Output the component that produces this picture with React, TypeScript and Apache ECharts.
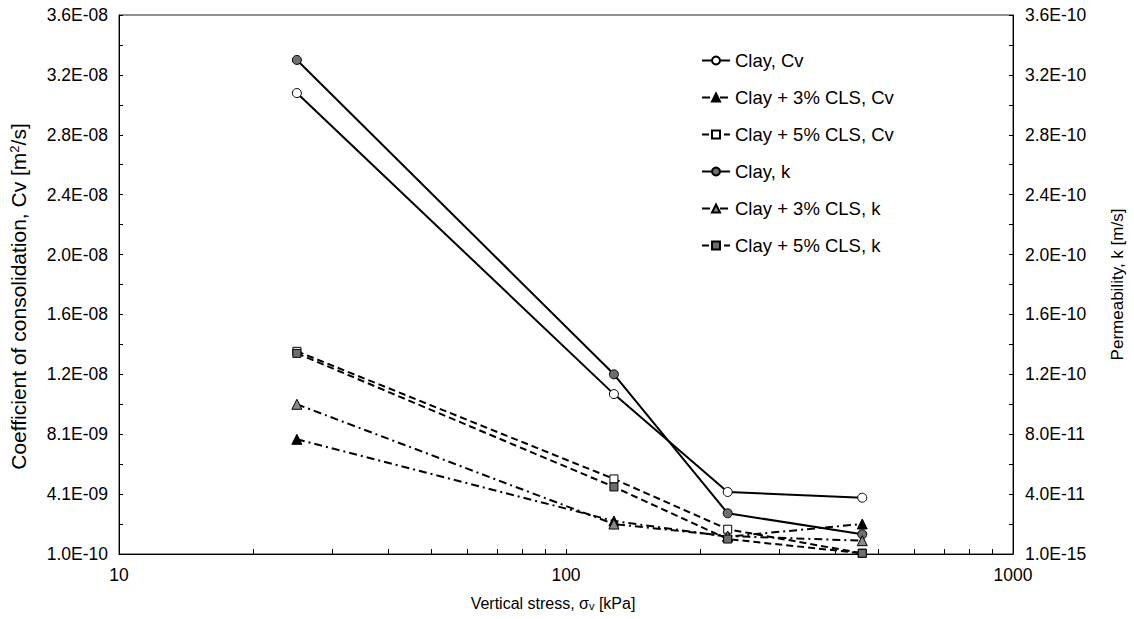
import React, { useEffect, useRef } from "react";
import * as echarts from "echarts";

// ---- data ----
const stress = [25, 128, 230, 460];
const clayCv = [3.08e-8, 1.075e-8, 4.23e-9, 3.85e-9];
const cls3Cv = [7.74e-9, 2.3e-9, 1.25e-9, 2.1e-9];
const cls5Cv = [1.36e-8, 5.1e-9, 1.75e-9, 1.5e-10];
const clayK = [3.3e-10, 1.2e-10, 2.72e-11, 1.32e-11];
const cls3K = [1.0e-10, 2.0e-11, 1.2e-11, 8.9e-12];
const cls5K = [1.34e-10, 4.48e-11, 1.0e-11, 5e-13];

const seriesNames = [
  "Clay, Cv",
  "Clay + 3% CLS, Cv",
  "Clay + 5% CLS, Cv",
  "Clay, k",
  "Clay + 3% CLS, k",
  "Clay + 5% CLS, k",
];

// ---- axis ticks ----
const xLabelValues = [10, 100, 1000];
const xTickValues = [10, 20, 30, 40, 50, 60, 70, 80, 90, 100, 200, 300, 400, 500, 600, 700, 800, 900, 1000];
const leftMin = 1e-10;
const leftMax = 3.6e-8;
const rightMin = 1e-15;
const rightMax = 3.6e-10;
const yDivisions = 9;

const FONT = "Liberation Sans";

function steps(min: number, max: number, n: number): number[] {
  const out: number[] = [];
  for (let i = 0; i <= n; i++) out.push(i === n ? max : min + ((max - min) * i) / n);
  return out;
}

function sci(v: number): string {
  const [m, e] = v.toExponential(1).split("e");
  const n = parseInt(e, 10);
  return `${m}E${n < 0 ? "-" : "+"}${String(Math.abs(n)).padStart(2, "0")}`;
}

const pairs = (ys: number[]) => stress.map((x, i) => [x, ys[i]]);

export default function App() {
  const ref = useRef<HTMLDivElement>(null);

  useEffect(() => {
    if (!ref.current) return;
    const chart = echarts.init(ref.current, null, { renderer: "svg" });

    const lineBase = (
      name: string,
      data: number[],
      yAxisIndex: number,
      symbol: string,
      fill: string,
      dash: any
    ) => ({
      name,
      type: "line",
      yAxisIndex,
      data: pairs(data),
      symbol,
      symbolSize: symbol === "triangle" ? 10 : symbol === "rect" ? 8 : 9,
      showSymbol: true,
      lineStyle: { color: "#000", width: 2, type: dash },
      itemStyle: { color: fill, borderColor: "#000", borderWidth: 1 },
      emphasis: { disabled: true },
      z: 3,
    });

    const tickLabel = { fontSize: 17.5, color: "#000", fontFamily: FONT };

    const option: any = {
      animation: false,
      textStyle: { fontFamily: FONT },
      grid: {
        left: 119,
        right: 121,
        top: 15,
        bottom: 65,
        show: true,
        borderColor: "#222",
        borderWidth: 1,
        outerBoundsMode: "none",
      },
      legend: {
        orient: "vertical",
        left: 701,
        top: 51,
        padding: 0,
        itemWidth: 28,
        itemHeight: 10,
        itemGap: 18,
        data: seriesNames,
        textStyle: { fontFamily: FONT, fontSize: 18.5, color: "#000" },
        selectedMode: false,
      },
      xAxis: {
        type: "log",
        logBase: 10,
        min: 10,
        max: 1000,
        name: "Vertical stress, σ{sub|v} [kPa]",
        nameLocation: "middle",
        nameGap: 41,
        nameTextStyle: {
          fontFamily: FONT,
          fontSize: 16,
          color: "#000",
          padding: [0, 26, 0, 0],
          rich: { sub: { fontSize: 11, verticalAlign: "bottom", lineHeight: 14, fontFamily: FONT, color: "#000" } },
        },
        axisLine: { show: true, lineStyle: { color: "#000", width: 1 } },
        axisTick: { show: true, inside: true, length: 5, customValues: xTickValues, lineStyle: { color: "#000" } },
        axisLabel: { customValues: xLabelValues, margin: 12, formatter: (v: number) => String(v), ...tickLabel },
        splitLine: { show: false },
        minorTick: { show: false },
      },
      yAxis: [
        {
          type: "value",
          position: "left",
          min: leftMin,
          max: leftMax,
          name: "Coefficient of consolidation, Cv [m{sup|2}/s]",
          nameLocation: "middle",
          nameRotate: 90,
          nameGap: 90,
          nameTextStyle: {
            fontFamily: FONT,
            fontSize: 21,
            color: "#000",
            padding: [0, 24, 0, 0],
            rich: { sup: { fontSize: 13, verticalAlign: "top", lineHeight: 14, fontFamily: FONT, color: "#000" } },
          },
          axisLine: { show: true, lineStyle: { color: "#000", width: 1 } },
          axisTick: { show: true, inside: true, length: 4, customValues: steps(leftMin, leftMax, yDivisions * 2), lineStyle: { color: "#000" } },
          axisLabel: {
            customValues: steps(leftMin, leftMax, yDivisions),
            formatter: (v: number) => sci(v),
            margin: 11,
            ...tickLabel,
          },
          splitLine: { show: false },
        },
        {
          type: "value",
          position: "right",
          min: rightMin,
          max: rightMax,
          name: "Permeability, k [m/s]",
          nameLocation: "middle",
          nameRotate: 90,
          nameGap: 96,
          nameTextStyle: { fontFamily: FONT, fontSize: 17, color: "#000" },
          axisLine: { show: true, lineStyle: { color: "#000", width: 1 } },
          axisTick: { show: true, inside: true, length: 4, customValues: steps(rightMin, rightMax, yDivisions * 2), lineStyle: { color: "#000" } },
          axisLabel: {
            customValues: steps(rightMin, rightMax, yDivisions),
            formatter: (v: number) => sci(v),
            margin: 12,
            ...tickLabel,
          },
          splitLine: { show: false },
        },
      ],
      series: [
        lineBase(seriesNames[0], clayCv, 0, "circle", "#fff", "solid"),
        lineBase(seriesNames[1], cls3Cv, 0, "triangle", "#000", [8, 4, 2, 4]),
        lineBase(seriesNames[2], cls5Cv, 0, "rect", "#fff", [7, 4]),
        lineBase(seriesNames[3], clayK, 1, "circle", "#6e6e6e", "solid"),
        lineBase(seriesNames[4], cls3K, 1, "triangle", "#8a8a8a", [8, 4, 2, 4]),
        lineBase(seriesNames[5], cls5K, 1, "rect", "#6e6e6e", [7, 4]),
      ],
    };

    chart.setOption(option);
    return () => chart.dispose();
  }, []);

  return (
    <div
      ref={ref}
      style={{ position: "fixed", left: 0, top: 0, width: 1134, height: 619, background: "#fff" }}
    />
  );
}
